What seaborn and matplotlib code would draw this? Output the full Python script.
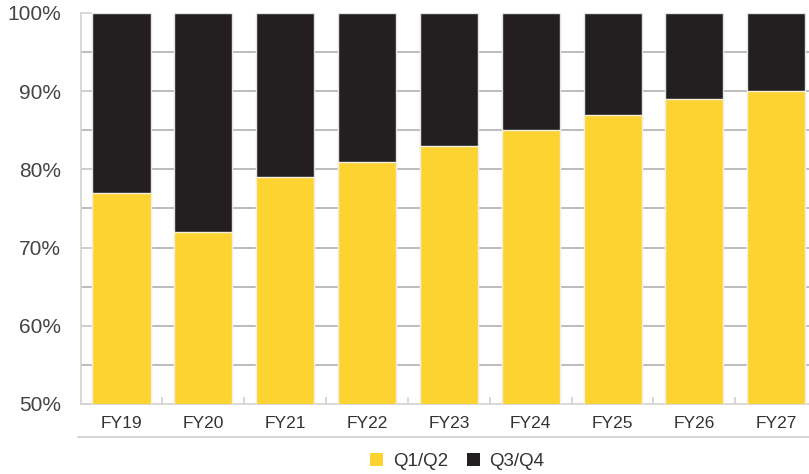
import matplotlib
matplotlib.use("Agg")
import matplotlib.pyplot as plt
from matplotlib.lines import Line2D
from matplotlib.patches import Patch
import seaborn as sns
import pandas as pd

# Share of annual volume falling in the first half vs second half of each fiscal year
years = ["FY19", "FY20", "FY21", "FY22", "FY23", "FY24", "FY25", "FY26", "FY27"]
q1q2 = [77, 72, 79, 81, 83, 85, 87, 89, 90]
q3q4 = [100 - v for v in q1q2]

yellow = "#FDD331"
black = "#231F20"

df = pd.DataFrame({"year": years, "q1q2": q1q2, "q3q4": q3q4})
df["total"] = df["q1q2"] + df["q3q4"]

sns.set_theme(style="white")
plt.rcParams["font.family"] = ["Liberation Sans", "DejaVu Sans"]

fig = plt.figure(figsize=(8.09, 4.74), dpi=100)
ax = fig.add_axes([0.0996, 0.1477, 0.9004, 0.8249])

# horizontal reference lines every 5 points, behind the bars
for y in range(55, 100, 5):
    ax.axhline(y, color="#a9a9a9", lw=1.1, zorder=0)

sns.barplot(data=df, x="year", y="total", color=black, width=0.71,
            saturation=1, edgecolor="#e4e4e4", linewidth=1, ax=ax, zorder=2)
sns.barplot(data=df, x="year", y="q1q2", color=yellow, width=0.71,
            saturation=1, edgecolor="#f4f0e0", linewidth=1, ax=ax, zorder=3)

ax.set_ylim(50, 100)
ax.set_xlim(-0.5, 8.4)
ax.set_yticks(range(50, 101, 10))
ax.set_yticklabels([f"{v}%" for v in range(50, 101, 10)])
ax.set_xlabel("")
ax.set_ylabel("")

for side in ["top", "right"]:
    ax.spines[side].set_visible(False)
for side in ["left", "bottom"]:
    ax.spines[side].set_color("#d2d2d2")
    ax.spines[side].set_linewidth(1.2)

ax.tick_params(axis="y", which="major", direction="in", length=8, width=1.2,
               color="#d2d2d2", labelsize=15, labelcolor="#444444", pad=14,
               left=True)
ax.tick_params(axis="x", which="major", length=0, labelsize=12.5,
               labelcolor="#333333", pad=9, bottom=True)
ax.set_xticks([i + 0.5 for i in range(len(years) - 1)], minor=True)
ax.tick_params(axis="x", which="minor", direction="in", length=5, width=1.2,
               color="#d2d2d2", bottom=True)

# rule under the category labels
fig.add_artist(Line2D([0.0964, 1.0], [0.078, 0.078], color="#d8d8d8", lw=1.5))

handles = [Patch(facecolor=yellow, edgecolor="none", label="Q1/Q2"),
           Patch(facecolor=black, edgecolor="none", label="Q3/Q4")]
fig.legend(handles=handles, loc="center", bbox_to_anchor=(0.565, 0.027),
           ncol=2, frameon=False, fontsize=13.5, handlelength=0.7,
           handleheight=0.7, handletextpad=0.5, columnspacing=1.0,
           labelcolor="#333333")

fig.savefig("out.png", dpi=100)
